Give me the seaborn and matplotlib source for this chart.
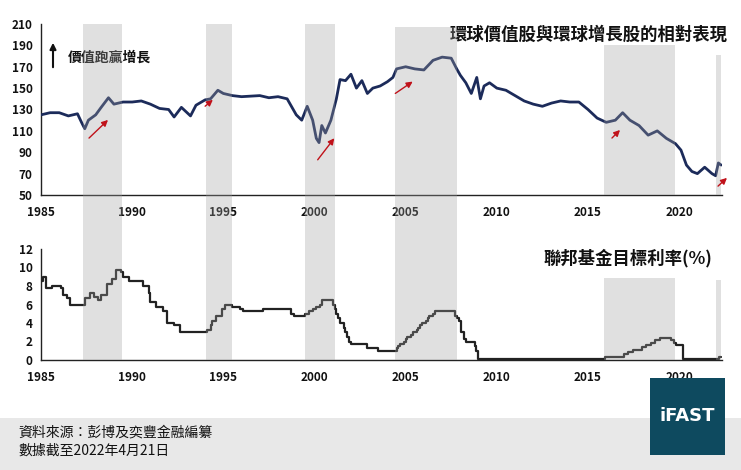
import matplotlib
matplotlib.use("Agg")
import matplotlib.pyplot as plt
import matplotlib.transforms as mtrans
from matplotlib.patches import Rectangle
import seaborn as sns
import pandas as pd

sns.set_theme(style="white")
plt.rcParams['font.family'] = ['Liberation Sans Narrow', 'Noto Sans CJK TC', 'DejaVu Sans']
CJK = ['Noto Sans CJK TC', 'DejaVu Sans']

rel_years = [1985, 1985.5, 1986, 1986.5, 1987, 1987.25, 1987.4, 1987.6, 1988, 1988.3, 1988.7, 1989, 1989.5,
             1990, 1990.5, 1991, 1991.5, 1992, 1992.3, 1992.7, 1993.2, 1993.5, 1994, 1994.3, 1994.7, 1995,
             1995.5, 1996, 1997, 1997.5, 1998, 1998.5, 1999, 1999.3, 1999.6, 1999.9, 2000.1, 2000.25, 2000.4,
             2000.6, 2000.9, 2001.2, 2001.4, 2001.7, 2002, 2002.3, 2002.6, 2002.9, 2003.2, 2003.6, 2004, 2004.3,
             2004.5, 2005, 2005.5, 2006, 2006.5, 2007, 2007.5, 2007.8, 2008, 2008.3, 2008.6, 2008.9, 2009.1,
             2009.3, 2009.6, 2010, 2010.5, 2011, 2011.5, 2012, 2012.5, 2013, 2013.5, 2014, 2014.5, 2015, 2015.5,
             2016, 2016.5, 2016.9, 2017.3, 2017.8, 2018.3, 2018.8, 2019.3, 2019.8, 2020.1, 2020.4, 2020.7, 2021,
             2021.4, 2021.8, 2022, 2022.15, 2022.3]
rel_values = [125, 127, 127, 124, 126, 117, 112, 120, 125, 132, 141, 135, 137,
              137, 138, 135, 131, 130, 123, 132, 124, 134, 139, 140, 148, 145,
              143, 142, 143, 141, 142, 140, 125, 120, 133, 120, 103, 99, 115,
              108, 120, 140, 158, 157, 163, 150, 157, 145, 150, 152, 156, 160,
              168, 170, 168, 167, 176, 179, 178, 168, 162, 155, 145, 160, 140,
              152, 155, 150, 148, 143, 138, 135, 133, 136, 138, 137, 137, 130, 122,
              118, 120, 127, 120, 115, 106, 110, 103, 98, 92, 78, 72, 70,
              76, 70, 68, 80, 78]

fed_years = [1985.0, 1985.1, 1985.3, 1985.6, 1986.1, 1986.2, 1986.4, 1986.6, 1987.0, 1987.4, 1987.7, 1987.9,
             1988.1, 1988.3, 1988.6, 1988.9, 1989.1, 1989.4, 1989.5, 1989.8, 1990.6, 1990.9, 1991.0, 1991.3,
             1991.7, 1991.9, 1992.3, 1992.6, 1994.1, 1994.3, 1994.4, 1994.6, 1994.9, 1995.1, 1995.5, 1995.9,
             1996.1, 1997.2, 1998.7, 1998.9, 1999.5, 1999.7, 1999.9, 2000.1, 2000.3, 2000.4, 2001.0, 2001.1,
             2001.2, 2001.3, 2001.4, 2001.6, 2001.7, 2001.8, 2001.9, 2002.0, 2002.9, 2003.5, 2004.5, 2004.6,
             2004.7, 2004.9, 2005.0, 2005.1, 2005.3, 2005.4, 2005.6, 2005.7, 2005.8, 2005.9, 2006.1, 2006.2,
             2006.3, 2006.5, 2006.6, 2007.7, 2007.8, 2007.95, 2008.05, 2008.2, 2008.3, 2008.8, 2008.85, 2008.95,
             2015.95, 2016.95, 2017.2, 2017.45, 2017.95, 2018.2, 2018.45, 2018.7, 2018.97, 2019.55, 2019.7,
             2019.8, 2020.2, 2022.2, 2022.32]
fed_values = [8.5, 9.0, 7.75, 8.0, 7.75, 7.0, 6.75, 5.9, 6.0, 6.75, 7.25, 6.8,
              6.5, 7.0, 8.25, 8.75, 9.75, 9.5, 9.0, 8.5, 8.0, 7.25, 6.25, 5.75,
              5.25, 4.0, 3.75, 3.0, 3.25, 3.75, 4.25, 4.75, 5.5, 6.0, 5.75, 5.5,
              5.25, 5.5, 5.0, 4.75, 5.0, 5.25, 5.5, 5.75, 6.0, 6.5, 6.0, 5.5,
              5.0, 4.5, 4.0, 3.5, 3.0, 2.5, 2.0, 1.75, 1.25, 1.0, 1.25, 1.5,
              1.75, 2.0, 2.25, 2.5, 2.75, 3.0, 3.25, 3.5, 3.75, 4.0, 4.25, 4.5,
              4.75, 5.0, 5.25, 4.75, 4.5, 4.25, 3.0, 2.25, 2.0, 1.5, 1.0, 0.125,
              0.375, 0.625, 0.875, 1.125, 1.375, 1.625, 1.875, 2.125, 2.375, 2.125, 1.875,
              1.625, 0.125, 0.375, 0.375]

year_ticks = [1985, 1990, 1995, 2000, 2005, 2010, 2015, 2020]
top_ticks = [50, 70, 90, 110, 130, 150, 170, 190, 210]
bot_ticks = [0, 2, 4, 6, 8, 10, 12]
periods = [(1987.3, 1989.45), (1994.05, 1995.45), (1999.5, 2001.1), (2004.4, 2007.8), (2015.9, 2019.75), (2022.0, 2022.3)]

W, H = 741, 470
fig = plt.figure(figsize=(W/100, H/100), dpi=100)
fig.patch.set_facecolor('white')
def fy(px): return 1 - px/H
def fx(px): return px/W

ax1 = fig.add_axes([fx(41), fy(195), fx(722)-fx(41), fy(24)-fy(195)])
ax2 = fig.add_axes([fx(41), fy(360), fx(722)-fx(41), fy(249)-fy(360)])

df1 = pd.DataFrame({'year': rel_years, 'val': rel_values})
df2 = pd.DataFrame({'year': fed_years, 'val': fed_values})
sns.lineplot(data=df1, x='year', y='val', ax=ax1, color='#1c2b5a', lw=2.0, zorder=3)
sns.lineplot(data=df2, x='year', y='val', ax=ax2, color='#222222', lw=1.6, drawstyle='steps-post', zorder=3)

xlim = (1985, 2022.35)
for ax, ticks, lim in [(ax1, top_ticks, (50, 210)), (ax2, bot_ticks, (0, 12))]:
    ax.set_xlim(*xlim)
    ax.set_ylim(*lim)
    ax.set_yticks(ticks)
    ax.set_xticks(year_ticks)
    ax.set_xlabel(''); ax.set_ylabel('')
    ax.set_facecolor('none')
    for s in ['top', 'right']:
        ax.spines[s].set_visible(False)
    for s in ['left', 'bottom']:
        ax.spines[s].set_color('#222222'); ax.spines[s].set_linewidth(1.0)
    ax.tick_params(axis='y', labelsize=8.5, length=0, pad=6, colors='#111111')
    ax.tick_params(axis='x', labelsize=8.5, length=0, pad=8, colors='#111111')
    for lab in ax.get_xticklabels() + ax.get_yticklabels():
        lab.set_fontweight('bold')

# shading overlay (semi-transparent, like the reference)
tr = mtrans.blended_transform_factory(ax1.transData, fig.transFigure)
segs = [[(24, 360)], [(24, 360)], [(24, 360)], [(27, 360)], [(45, 195), (278, 360)], [(55, 195), (280, 360)]]
for (a, b), ss in zip(periods, segs):
    for t, bt in ss:
        fig.patches.append(Rectangle((a, fy(bt)), b - a, fy(t) - fy(bt), transform=tr,
                                     facecolor='#a0a0a0', alpha=0.32, edgecolor='none', zorder=5))

fig.text(fx(728), fy(35), '環球價值股與環球增長股的相對表現', ha='right', va='center', fontsize=12.5,
         fontweight='bold', family=CJK, color='#111111')
fig.text(fx(712), fy(258), '聯邦基金目標利率(%)', ha='right', va='center', fontsize=12.5,
         fontweight='bold', family=CJK, color='#111111')
fig.text(fx(68), fy(58), '價值跑贏增長', ha='left', va='center', fontsize=10, fontweight='bold',
         family=CJK, color='#111111')
fig.add_artist(matplotlib.patches.FancyArrowPatch((fx(53), fy(70)), (fx(53), fy(40)), transform=fig.transFigure,
                                                   arrowstyle='-|>', mutation_scale=9, color='#111111', lw=1.5))
for (x0, y0, x1, y1) in [(87, 140, 110, 118), (203, 108, 215, 98), (316, 162, 336, 136),
                         (393, 95, 415, 80), (610, 140, 622, 128), (716, 188, 729, 176)]:
    fig.add_artist(matplotlib.patches.FancyArrowPatch((fx(x0), fy(y0)), (fx(x1), fy(y1)), transform=fig.transFigure,
                                                       arrowstyle='-|>', mutation_scale=9, color='#c0121a', lw=1.0, zorder=6))

fig.patches.append(Rectangle((0, 0), 1, fy(418), transform=fig.transFigure, facecolor='#e8e8e8',
                             edgecolor='none', zorder=-2))
fig.patches.append(Rectangle((fx(650), fy(455)), fx(725)-fx(650), fy(378)-fy(455), transform=fig.transFigure,
                             facecolor='#0e4a5f', edgecolor='none', zorder=1))
fig.text(fx(687), fy(416), 'iFAST', ha='center', va='center', fontsize=13, fontweight='bold',
         color='white', family=['Liberation Sans Narrow', 'DejaVu Sans'], zorder=2)
fig.text(fx(18), fy(433), '資料來源：彭博及奕豐金融編纂', ha='left', va='center', fontsize=10, family=CJK, color='#111111')
fig.text(fx(18), fy(451), '數據截至2022年4月21日', ha='left', va='center', fontsize=10, family=CJK, color='#111111')

fig.savefig('out.png', dpi=100)
